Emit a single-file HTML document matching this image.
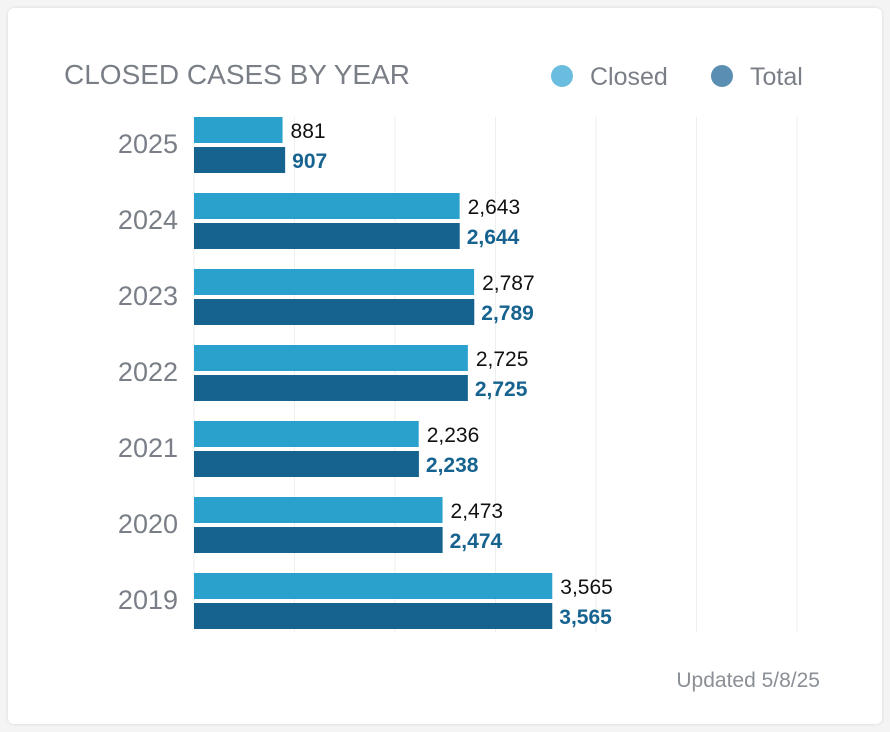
<!DOCTYPE html>
<html><head><meta charset="utf-8"><style>
body{margin:0;background:#f4f4f4;width:890px;height:732px;overflow:hidden;font-family:"Liberation Sans",sans-serif}
#card{position:absolute;left:8px;top:8px;width:874px;height:716px;background:#fff;border-radius:6px;box-shadow:0 0 3px rgba(0,0,0,.12)}
</style></head><body>
<div id="card"></div>
<svg id="chart" width="890" height="732" style="position:absolute;left:0;top:0">
<text x="64" y="84" font-size="28" fill="#7a7f87">CLOSED CASES BY YEAR</text>
<g>
<circle cx="562" cy="76" r="11" fill="#6bbde0"/>
<text x="590" y="85" font-size="25" fill="#7a7f87">Closed</text>
<circle cx="722" cy="76" r="11" fill="#5a8fb3"/>
<text x="750" y="85" font-size="25" fill="#7a7f87">Total</text>
</g>
<g id="grid"></g><g id="bars"></g>
<text x="820" y="687" font-size="21" fill="#8a8f96" text-anchor="end">Updated 5/8/25</text>
</svg>
<script>
const years=["2025","2024","2023","2022","2021","2020","2019"];
const closed=[881,2643,2787,2725,2236,2473,3565];
const total=[907,2644,2789,2725,2238,2474,3565];
const gridTicks=[0,1000,2000,3000,4000,5000,6000];
const ns="http://www.w3.org/2000/svg";
const x0=194,scale=0.1005,top0=117,pitch=76,bh=26;
const xs=v=>x0+v*scale;
function mk(t,a,p){const e=document.createElementNS(ns,t);for(const k in a)e.setAttribute(k,a[k]);p.appendChild(e);return e;}
const g=document.getElementById('grid'),b=document.getElementById('bars');
gridTicks.forEach(t=>{const l=mk('line',{x1:xs(t),x2:xs(t),y1:117,y2:632,stroke:'#eeeeee','stroke-width':1},g);

});
years.forEach((y,i)=>{const yt=top0+i*pitch;
const lab=mk('text',{x:178,y:yt+36,'font-size':27,fill:'#7a7f87','text-anchor':'end'},b);lab.textContent=y;


const r1=mk('rect',{x:x0,y:yt,width:closed[i]*scale,height:bh,fill:'#2aa1cd'},b);


const t1=mk('text',{x:xs(closed[i])+8,y:yt+21,'font-size':21,fill:'#111'},b);t1.textContent=closed[i].toLocaleString('en-US');


const r2=mk('rect',{x:x0,y:yt+30,width:total[i]*scale,height:bh,fill:'#17638f'},b);


const t2=mk('text',{x:xs(total[i])+7,y:yt+51,'font-size':21,'font-weight':'bold',fill:'#17638f'},b);t2.textContent=total[i].toLocaleString('en-US');


});
</script>
</body></html>
